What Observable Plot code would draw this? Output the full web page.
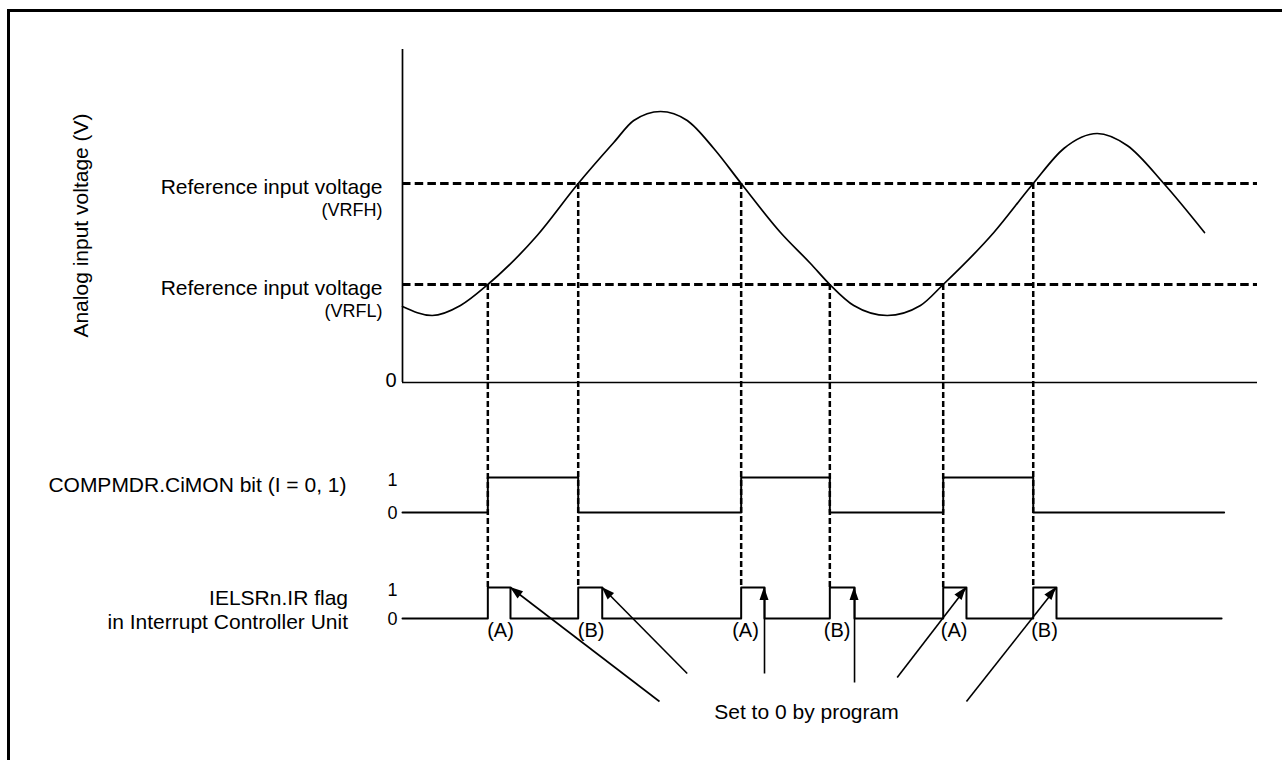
<!DOCTYPE html>
<html><head><meta charset="utf-8">
<script src="https://cdn.jsdelivr.net/npm/d3@7"></script>
<script src="https://cdn.jsdelivr.net/npm/@observablehq/plot@0.6"></script>
<style>
html,body{margin:0;padding:0;background:#fff;overflow:hidden;width:1282px;height:760px;position:relative}
#chart{position:absolute;left:0;top:0;width:1282px;height:760px}
#chart svg{position:absolute;left:0;top:0;max-width:none;background:transparent}
.edge{position:absolute;background:#000;pointer-events:none}
#edgeTop{left:7px;top:9px;width:1275px;height:3px}
#edgeLeft{left:7px;top:9px;width:3px;height:751px}
</style></head><body><div id="chart"></div><div class="edge" id="edgeTop"></div><div class="edge" id="edgeLeft"></div>
<script>
// ---- data ----
// analog input voltage waveform (time units, volts)
const curveT = [0, 3.47, 6.78, 9.98, 15.75, 20.55, 24.71, 27.05, 30.18, 33.30, 36.41, 39.61, 44.21, 47.72, 49.98, 52.78, 56.69, 60.58, 63.24, 69.16, 73.77, 77.35, 81.25, 84.76, 89.04, 93.80];
const curveV = [0.76, 0.67, 0.77, 0.98, 1.47, 1.99, 2.40, 2.62, 2.71, 2.62, 2.34, 1.99, 1.50, 1.19, 0.98, 0.77, 0.67, 0.77, 0.98, 1.50, 1.99, 2.34, 2.49, 2.37, 1.99, 1.50];
// reference voltages
const refNames = ["(VRFH)", "(VRFL)"];
const refValues = [1.99, 0.98];
const axisTopV = 3.33;
const timeEnd = 100;
// threshold crossings
const crossT = [9.98, 20.55, 39.61, 49.98, 63.24, 73.77];
const crossRef = ["(VRFL)", "(VRFH)", "(VRFH)", "(VRFL)", "(VRFL)", "(VRFH)"];
const pulseNames = ["(A)", "(B)", "(A)", "(B)", "(A)", "(B)"];
const pulseLabelT = [11.46, 22.07, 40.12, 50.84, 64.51, 75.09];
// IELSRn.IR flag cleared by program
const irFallT = [12.63, 23.36, 42.34, 52.87, 65.96, 76.49];
// "Set to 0 by program" arrow tails
const arrowTailT = [30.06, 33.30, 42.34, 52.87, 57.86, 65.96];
const arrowTailV = [-3.19, -2.91, -2.91, -3.00, -2.95, -3.19];
// logic rows (baseline "0" and "1" levels on the diagram's vertical scale)
const rowNames = ["COMPMDR.CiMON bit (I = 0, 1)", "IELSRn.IR flag\nin Interrupt Controller Unit"];
const rowBase = [-1.30, -2.36];
const rowHigh = [-0.95, -2.05];
const rowEnd = [96.1, 95.8];
const levelTicks = ["0", "1"];
const noteText = "Set to 0 by program";
const noteT = 47.25, noteV = -3.293;
const yTitle = "Analog input voltage (V)";
const yTitleV = 1.57;

// ---- derived tables ----
const curve = curveT.map((t, i) => ({t, v: curveV[i]}));
const refOf = name => refValues[refNames.indexOf(name)];
const refs = refNames.map((n, i) => ({name: n, v: refValues[i]}));
const lvl = (row, b) => rowBase[row] + b * (rowHigh[row] - rowBase[row]);

const cimon = [{t: 0, v: lvl(0, 0)}];
for (let i = 0; i < crossT.length; i += 2) {
  cimon.push({t: crossT[i], v: lvl(0, 0)}, {t: crossT[i], v: lvl(0, 1)},
             {t: crossT[i + 1], v: lvl(0, 1)}, {t: crossT[i + 1], v: lvl(0, 0)});
}
cimon.push({t: rowEnd[0], v: lvl(0, 0)});

const ir = [{t: 0, v: lvl(1, 0)}];
crossT.forEach((t, i) => {
  ir.push({t, v: lvl(1, 0)}, {t, v: lvl(1, 1)}, {t: irFallT[i], v: lvl(1, 1)}, {t: irFallT[i], v: lvl(1, 0)});
});
ir.push({t: rowEnd[1], v: lvl(1, 0)});

const drops = crossT.map((t, i) => ({t, v1: refOf(crossRef[i]), v2: lvl(1, 1)}));
const arrows = irFallT.map((t, i) => ({t1: arrowTailT[i], v1: arrowTailV[i], t2: t, v2: lvl(1, 1)}));
const pulseLabels = pulseNames.map((n, i) => ({n, t: pulseLabelT[i], v: lvl(1, 0)}));
const ticks1 = rowBase.map((b, i) => ({text: levelTicks[1], t: 0, v: rowHigh[i]}));
const ticks0 = rowBase.map((b, i) => ({text: levelTicks[0], t: 0, v: b}));

const X_DOMAIN = [0, timeEnd], Y_DOMAIN = [-3.78, 3.82];
const W = 1282, H = 760, ML = 402, MR = 25;

function arrowHeads(index, scales) {
  const sx = (scales && scales.x) || d3.scaleLinear(X_DOMAIN, [ML, W - MR]);
  const sy = (scales && scales.y) || d3.scaleLinear(Y_DOMAIN, [H, 0]);
  const g = d3.create("svg:g");
  for (const a of arrows) {
    const x1 = sx(a.t1), y1 = sy(a.v1), x2 = sx(a.t2), y2 = sy(a.v2);
    const ang = Math.atan2(y2 - y1, x2 - x1) * 180 / Math.PI;
    g.append("path").attr("d", "M0,0L-13,-4.5L-13,4.5Z").attr("fill", "#000")
      .attr("transform", `translate(${x2},${y2}) rotate(${ang})`);
  }
  return g.node();
}

const font = "'Liberation Sans', Arial, Helvetica, sans-serif";
const plot = Plot.plot({
  width: W, height: H,
  marginLeft: ML, marginRight: MR, marginTop: 0, marginBottom: 0,
  x: {domain: X_DOMAIN, axis: null},
  y: {domain: Y_DOMAIN, axis: null},
  style: {fontFamily: font, background: "transparent", color: "#000"},
  marks: [
    // axes of the analog panel
    Plot.ruleX([0], {y1: 0, y2: axisTopV, stroke: "#000", strokeWidth: 1.7}),
    Plot.ruleY([0], {x1: 0, x2: timeEnd, stroke: "#000", strokeWidth: 1.7}),
    // reference voltage lines
    Plot.ruleY(refs, {y: "v", x1: 0, x2: timeEnd, stroke: "#000", strokeWidth: 3, strokeDasharray: "8.5,4.2"}),
    // analog waveform
    Plot.line(curve, {x: "t", y: "v", curve: "monotone-x", stroke: "#000", strokeWidth: 1.7}),
    // logic signals
    Plot.line(cimon, {x: "t", y: "v", stroke: "#000", strokeWidth: 2}),
    Plot.line(ir, {x: "t", y: "v", stroke: "#000", strokeWidth: 2}),
    // vertical dashed drop lines
    Plot.ruleX(drops, {x: "t", y1: "v1", y2: "v2", stroke: "#000", strokeWidth: 2.5, strokeDasharray: "6,3"}),
    // arrows
    Plot.link(arrows, {x1: "t1", y1: "v1", x2: "t2", y2: "v2", stroke: "#000", strokeWidth: 1.6}),
    arrowHeads,
    // texts
    Plot.text([yTitle], {x: 0, y: yTitleV, text: d => d, rotate: -90, dx: -321, fontSize: 21, fill: "#000"}),
    Plot.text(refs, {x: 0, y: "v", text: () => "Reference input voltage", textAnchor: "end", dx: -20, dy: 3.3, fontSize: 21, fill: "#000"}),
    Plot.text(refs, {x: 0, y: "v", text: "name", textAnchor: "end", dx: -20, dy: 27, fontSize: 18, fill: "#000"}),
    Plot.text(["0"], {x: 0, y: 0, text: d => d, textAnchor: "end", dx: -6, dy: -2, fontSize: 20, fill: "#000"}),
    Plot.text([rowNames[0]], {x: 0, y: rowHigh[0], text: d => d, textAnchor: "end", dx: -56, dy: 8, fontSize: 21, fill: "#000"}),
    Plot.text([rowNames[1]], {x: 0, y: rowHigh[1], text: d => d, textAnchor: "end", dx: -54.5, dy: 21.5, lineHeight: 1.19, fontSize: 21, fill: "#000"}),
    Plot.text(ticks1, {x: "t", y: "v", text: "text", textAnchor: "end", dx: -5, dy: 3, fontSize: 18, fill: "#000"}),
    Plot.text(ticks0, {x: "t", y: "v", text: "text", textAnchor: "end", dx: -5, dy: 1, fontSize: 18, fill: "#000"}),
    Plot.text(pulseLabels, {x: "t", y: "v", text: "n", dy: 12, fontSize: 20, fill: "#000"}),
    Plot.text([noteText], {x: noteT, y: noteV, text: d => d, fontSize: 21, fill: "#000"})
  ]
});
document.getElementById("chart").appendChild(plot);
</script></body></html>
